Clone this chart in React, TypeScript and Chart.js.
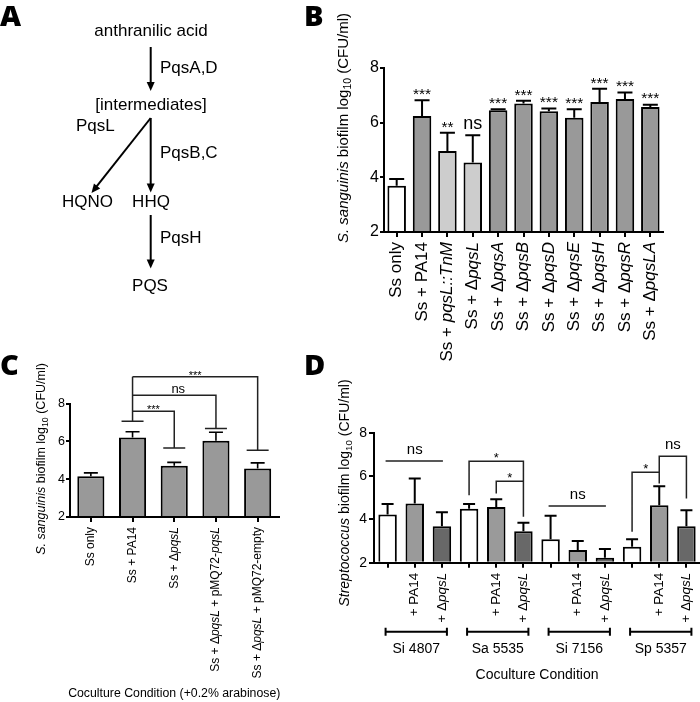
import React, { useEffect, useRef } from 'react';
import { Chart, registerables } from 'chart.js';
Chart.register(...registerables);

const FONT = '"Liberation Sans", Arial, Helvetica, sans-serif';

// ---------- Panel B ----------
const bCategories = ['Ss only', 'Ss + PA14', 'Ss + {pqsL::TnM}', 'Ss + Δ{pqsL}', 'Ss + Δ{pqsA}', 'Ss + Δ{pqsB}', 'Ss + Δ{pqsD}', 'Ss + Δ{pqsE}', 'Ss + Δ{pqsH}', 'Ss + Δ{pqsR}', 'Ss + Δ{pqsLA}'];
const bMeans = [3.69, 6.24, 4.96, 4.54, 6.45, 6.70, 6.42, 6.18, 6.76, 6.87, 6.57];
const bErrors = [0.25, 0.58, 0.67, 1.0, 0.04, 0.10, 0.10, 0.31, 0.48, 0.23, 0.09];
const bSignificance = ['', '***', '**', 'ns', '***', '***', '***', '***', '***', '***', '***'];

// ---------- Panel C ----------
const cCategories = ['Ss only', 'Ss + PA14', 'Ss + Δ{pqsL}', 'Ss + Δ{pqsL} + pMQ72-{pqsL}', 'Ss + Δ{pqsL} + pMQ72-empty'];
const cMeans = [4.15, 6.2, 4.71, 6.03, 4.56];
const cErrors = [0.18, 0.31, 0.18, 0.45, 0.30];
const cReference = 1;
const cReferenceStart = 7.06;
const cComparisons = [
  { to: 2, top: 7.59, end: 5.65, label: '***' },
  { to: 3, top: 8.44, end: 6.68, label: 'ns' },
  { to: 4, top: 9.41, end: 5.53, label: '***' },
];

// ---------- Panel D ----------
const dCategories = ['', '+ PA14', '+ Δ{pqsL}', '', '+ PA14', '+ Δ{pqsL}', '', '+ PA14', '+ Δ{pqsL}', '', '+ PA14', '+ Δ{pqsL}'];
const dGroups = ['Si 4807', 'Sa 5535', 'Si 7156', 'Sp 5357'];
const dMeans = [4.23, 4.74, 3.69, 4.49, 4.58, 3.46, 3.08, 2.59, 2.23, 2.74, 4.66, 3.69];
const dErrors = [0.48, 1.16, 0.64, 0.23, 0.35, 0.39, 1.09, 0.41, 0.40, 0.34, 0.88, 0.74];
const dComparisons = [
  { from: 0, to: 2, top: 6.71, label: 'ns', flat: true },
  { from: 3, to: 5, top: 6.69, left: 5.12, right: 4.12, label: '*' },
  { from: 4, to: 5, top: 5.77, left: 5.2, right: 5.77, label: '*' },
  { from: 6, to: 8, top: 4.62, label: 'ns', flat: true },
  { from: 9, to: 10, top: 6.19, left: 3.43, right: 5.66, label: '*' },
  { from: 10, to: 11, top: 6.92, left: 6.19, right: 4.97, label: 'ns' },
];

// ---------- styles ----------
const bFill = ['#ffffff', '#999999', '#cdcdcd', '#cdcdcd', '#999999', '#999999', '#999999', '#999999', '#999999', '#999999', '#999999'];
const cFill = '#999999';
const dFill = ['#ffffff', '#9a9a9a', '#686868'];

type Seg = { t: string; i?: boolean; sub?: boolean };

function parseRich(s: string): Seg[] {
  const out: Seg[] = [];
  const re = /\{([^}]*)\}/g;
  let last = 0;
  let m: RegExpExecArray | null;
  while ((m = re.exec(s))) {
    if (m.index > last) out.push({ t: s.slice(last, m.index) });
    out.push({ t: m[1], i: true });
    last = re.lastIndex;
  }
  if (last < s.length) out.push({ t: s.slice(last) });
  return out;
}

function fnt(size: number, italic?: boolean) {
  return `${italic ? 'italic ' : ''}${size}px ${FONT}`;
}

function drawRich(ctx: CanvasRenderingContext2D, segs: Seg[], x: number, y: number, size: number, rot: number, align: 'left' | 'center' | 'right') {
  ctx.save();
  ctx.translate(x, y);
  ctx.rotate(rot);
  let w = 0;
  for (const s of segs) {
    ctx.font = fnt(s.sub ? size * 0.7 : size, s.i);
    w += ctx.measureText(s.t).width;
  }
  let cx = align === 'left' ? 0 : align === 'center' ? -w / 2 : -w;
  ctx.textBaseline = 'middle';
  ctx.textAlign = 'left';
  ctx.fillStyle = '#000';
  for (const s of segs) {
    ctx.font = fnt(s.sub ? size * 0.7 : size, s.i);
    ctx.fillText(s.t, cx, s.sub ? size * 0.3 : 0);
    cx += ctx.measureText(s.t).width;
  }
  ctx.restore();
}

function drawSig(ctx: CanvasRenderingContext2D, text: string, x: number, yc: number, size: number) {
  if (!text) return;
  ctx.save();
  ctx.font = fnt(size);
  ctx.fillStyle = '#000';
  ctx.textAlign = 'center';
  ctx.textBaseline = 'alphabetic';
  const k = text.includes('*') ? 0.57 : 0.26;
  ctx.fillText(text, x, yc + k * size);
  ctx.restore();
}

function drawErrorBars(chart: any, means: number[], errs: number[], capW: number, lw: number) {
  const ctx = chart.ctx;
  const meta = chart.getDatasetMeta(0);
  const ys = chart.scales.y;
  ctx.save();
  ctx.strokeStyle = '#000';
  ctx.lineWidth = lw;
  means.forEach((m, i) => {
    const x = meta.data[i].x;
    const y0 = ys.getPixelForValue(m);
    const y1 = ys.getPixelForValue(m + errs[i]);
    ctx.beginPath();
    ctx.moveTo(x, y0);
    ctx.lineTo(x, y1);
    ctx.moveTo(x - capW / 2, y1);
    ctx.lineTo(x + capW / 2, y1);
    ctx.stroke();
  });
  ctx.restore();
}

function drawXLabels(chart: any, cats: string[], size: number) {
  const meta = chart.getDatasetMeta(0);
  const y = chart.chartArea.bottom + 10;
  cats.forEach((c, i) => {
    if (!c) return;
    drawRich(chart.ctx, parseRich(c), meta.data[i].x, y, size, -Math.PI / 2, 'right');
  });
}

const yTitleSanguinis: Seg[] = [{ t: 'S. sanguinis', i: true }, { t: ' biofilm log' }, { t: '10', sub: true }, { t: ' (CFU/ml)' }];
const yTitleStrep: Seg[] = [{ t: 'Streptococcus', i: true }, { t: ' biofilm log' }, { t: '10', sub: true }, { t: ' (CFU/ml)' }];

function axes(o: { yWidth: number; xHeight: number; tickSize: number; tickLen: number; tickPad: number; lw: number }) {
  return {
    x: {
      type: 'category',
      offset: true,
      afterFit: (s: any) => { s.height = o.xHeight; },
      ticks: { display: false },
      grid: { display: true, offset: false, drawOnChartArea: false, drawTicks: true, tickLength: 5, color: '#000', lineWidth: o.lw },
      border: { display: true, color: '#000', width: o.lw },
    },
    y: {
      type: 'linear',
      min: 2,
      max: 8,
      afterFit: (s: any) => { s.width = o.yWidth; },
      ticks: { stepSize: 2, color: '#000', font: { family: FONT, size: o.tickSize }, padding: o.tickPad },
      grid: { display: true, drawOnChartArea: false, drawTicks: true, tickLength: o.tickLen, color: '#000', lineWidth: o.lw },
      border: { display: true, color: '#000', width: o.lw },
    },
  };
}

function PanelB() {
  const ref = useRef<HTMLCanvasElement>(null);
  useEffect(() => {
    const chart = new Chart(ref.current as HTMLCanvasElement, {
      type: 'bar',
      data: {
        labels: bCategories,
        datasets: [{ data: bMeans, backgroundColor: bFill, borderColor: '#000', borderWidth: 2, base: 2, barPercentage: 0.73, categoryPercentage: 1 } as any],
      },
      options: {
        responsive: false,
        animation: false,
        devicePixelRatio: 1,
        layout: { padding: { left: 0, right: 37, top: 68, bottom: 0 } },
        plugins: { legend: { display: false }, tooltip: { enabled: false } },
        scales: axes({ yWidth: 84, xHeight: 140, tickSize: 16, tickLen: 4, tickPad: 1, lw: 2 }) as any,
      },
      plugins: [{
        id: 'bExtras',
        afterDraw(c: any) {
          const ctx = c.ctx;
          drawErrorBars(c, bMeans, bErrors, 15, 2);
          const meta = c.getDatasetMeta(0);
          bSignificance.forEach((s, i) => {
            const yt = c.scales.y.getPixelForValue(bMeans[i] + bErrors[i]);
            if (s === 'ns') drawSig(ctx, s, meta.data[i].x, yt - 11, 18);
            else drawSig(ctx, s, meta.data[i].x, yt - 10, 15.5);
          });
          drawXLabels(c, bCategories, 17);
          drawRich(ctx, yTitleSanguinis, 44, 128, 15, -Math.PI / 2, 'center');
        },
      }],
    });
    return () => chart.destroy();
  }, []);
  return <canvas ref={ref} width={400} height={372} style={{ position: 'absolute', left: 300, top: 0 }} />;
}

function PanelC() {
  const ref = useRef<HTMLCanvasElement>(null);
  useEffect(() => {
    const chart = new Chart(ref.current as HTMLCanvasElement, {
      type: 'bar',
      data: {
        labels: cCategories,
        datasets: [{ data: cMeans, backgroundColor: cFill, borderColor: '#000', borderWidth: 2, base: 2, barPercentage: 0.65, categoryPercentage: 1 } as any],
      },
      options: {
        responsive: false,
        animation: false,
        devicePixelRatio: 1,
        layout: { padding: { left: 0, right: 21.5, top: 43.5, bottom: 0 } },
        plugins: { legend: { display: false }, tooltip: { enabled: false } },
        scales: axes({ yWidth: 70, xHeight: 185, tickSize: 12.5, tickLen: 4, tickPad: 1, lw: 2 }) as any,
      },
      plugins: [{
        id: 'cExtras',
        afterDraw(c: any) {
          const ctx = c.ctx;
          drawErrorBars(c, cMeans, cErrors, 14, 1.6);
          const meta = c.getDatasetMeta(0);
          const ys = c.scales.y;
          const xr = meta.data[cReference].x;
          const cap = 22;
          ctx.save();
          ctx.strokeStyle = '#222';
          ctx.lineWidth = 1.5;
          const maxTop = Math.max(...cComparisons.map((k) => k.top));
          ctx.beginPath();
          ctx.moveTo(xr, ys.getPixelForValue(cReferenceStart));
          ctx.lineTo(xr, ys.getPixelForValue(maxTop));
          ctx.moveTo(xr - cap / 2, ys.getPixelForValue(cReferenceStart));
          ctx.lineTo(xr + cap / 2, ys.getPixelForValue(cReferenceStart));
          cComparisons.forEach((k) => {
            const xt = meta.data[k.to].x;
            const yt = ys.getPixelForValue(k.top);
            const ye = ys.getPixelForValue(k.end);
            ctx.moveTo(xr, yt);
            ctx.lineTo(xt, yt);
            ctx.lineTo(xt, ye);
            ctx.moveTo(xt - cap / 2, ye);
            ctx.lineTo(xt + cap / 2, ye);
          });
          ctx.stroke();
          ctx.restore();
          cComparisons.forEach((k) => {
            const xt = meta.data[k.to].x;
            const yt = ys.getPixelForValue(k.top);
            if (k.label === 'ns') drawSig(ctx, k.label, (xr + xt) / 2 + 4, yt - 6, 13);
            else drawSig(ctx, k.label, (xr + xt) / 2, yt - 4.5, 11);
          });
          drawXLabels(c, cCategories, 12);
          drawRich(ctx, yTitleSanguinis, 42, 99, 12.5, -Math.PI / 2, 'center');
          const ca = c.chartArea;
          drawRich(ctx, [{ t: 'Coculture Condition (+0.2% arabinose)' }], (ca.left + ca.right) / 2, 334, 12.3, 0, 'center');
        },
      }],
    });
    return () => chart.destroy();
  }, []);
  return <canvas ref={ref} width={300} height={342} style={{ position: 'absolute', left: 0, top: 360 }} />;
}

function PanelD() {
  const ref = useRef<HTMLCanvasElement>(null);
  useEffect(() => {
    const chart = new Chart(ref.current as HTMLCanvasElement, {
      type: 'bar',
      data: {
        labels: dCategories.map((c, i) => `${i}:${c}`),
        datasets: [{ data: dMeans, backgroundColor: dMeans.map((_, i) => dFill[i % 3]), borderColor: '#000', borderWidth: 2, base: 2, barPercentage: 0.68, categoryPercentage: 1 } as any],
      },
      options: {
        responsive: false,
        animation: false,
        devicePixelRatio: 1,
        layout: { padding: { left: 0, right: 0, top: 73, bottom: 0 } },
        plugins: { legend: { display: false }, tooltip: { enabled: false } },
        scales: axes({ yWidth: 74, xHeight: 139.3, tickSize: 14, tickLen: 5, tickPad: 2, lw: 2 }) as any,
      },
      plugins: [{
        id: 'dExtras',
        afterDraw(c: any) {
          const ctx = c.ctx;
          drawErrorBars(c, dMeans, dErrors, 12, 2);
          const meta = c.getDatasetMeta(0);
          const ys = c.scales.y;
          const X = (i: number) => meta.data[i].x;
          ctx.save();
          ctx.strokeStyle = '#222';
          ctx.lineWidth = 1.5;
          ctx.beginPath();
          dComparisons.forEach((k: any) => {
            const yt = ys.getPixelForValue(k.top);
            if (k.flat) {
              ctx.moveTo(X(k.from) - 2, yt);
              ctx.lineTo(X(k.to) + 1, yt);
            } else {
              ctx.moveTo(X(k.from), ys.getPixelForValue(k.left));
              ctx.lineTo(X(k.from), yt);
              ctx.lineTo(X(k.to), yt);
              ctx.lineTo(X(k.to), ys.getPixelForValue(k.right));
            }
          });
          ctx.stroke();
          ctx.restore();
          dComparisons.forEach((k: any) => {
            const yt = ys.getPixelForValue(k.top);
            const xm = (X(k.from) + X(k.to)) / 2;
            if (k.label === 'ns') drawSig(ctx, k.label, xm, yt - 11, 15);
            else drawSig(ctx, k.label, xm, yt - 7, 13);
          });
          drawXLabels(c, dCategories, 13.5);
          const ca = c.chartArea;
          ctx.save();
          ctx.strokeStyle = '#000';
          ctx.lineWidth = 2;
          dGroups.forEach((g, gi) => {
            const l = X(gi * 3) - 2;
            const r = X(gi * 3 + 2) + 5;
            const y = ca.bottom + 69;
            ctx.beginPath();
            ctx.moveTo(l, y);
            ctx.lineTo(r, y);
            ctx.moveTo(l, y - 4);
            ctx.lineTo(l, y + 4);
            ctx.moveTo(r, y - 4);
            ctx.lineTo(r, y + 4);
            ctx.stroke();
            drawRich(ctx, [{ t: g }], (l + r) / 2, ca.bottom + 86, 14, 0, 'center');
          });
          ctx.restore();
          drawRich(ctx, [{ t: 'Coculture Condition' }], (ca.left + ca.right) / 2, ca.bottom + 112, 14, 0, 'center');
          drawRich(ctx, yTitleStrep, 45, 133, 14, -Math.PI / 2, 'center');
        },
      }],
    });
    return () => chart.destroy();
  }, []);
  return <canvas ref={ref} width={400} height={342} style={{ position: 'absolute', left: 300, top: 360 }} />;
}

function Arrow({ x1, y1, x2, y2 }: { x1: number; y1: number; x2: number; y2: number }) {
  const dx = x2 - x1, dy = y2 - y1, L = Math.hypot(dx, dy);
  const ux = dx / L, uy = dy / L, px = -uy, py = ux;
  const hl = 9, hw = 4;
  const bx = x2 - ux * hl, by = y2 - uy * hl;
  return (
    <g>
      <line x1={x1} y1={y1} x2={bx + ux} y2={by + uy} stroke="#000" strokeWidth={2} />
      <polygon points={`${x2},${y2} ${bx + px * hw},${by + py * hw} ${bx - px * hw},${by - py * hw}`} fill="#000" />
    </g>
  );
}

function Overlay() {
  const t = { fontFamily: FONT, fontSize: 17, fill: '#000' } as const;
  const L = { fontFamily: '"Open Sans", "DejaVu Sans", sans-serif', fontSize: 29, fontWeight: 800, fill: '#000' } as const;
  return (
    <svg width={700} height={702} style={{ position: 'absolute', left: 0, top: 0, pointerEvents: 'none' }}>
      <text x={0} y={26} style={L}>A</text>
      <text x={304} y={26} style={L}>B</text>
      <text x={0} y={375} style={L}>C</text>
      <text x={304} y={375} style={L}>D</text>
      <text x={151} y={36} textAnchor="middle" style={t}>anthranilic acid</text>
      <Arrow x1={150.7} y1={47} x2={150.7} y2={91} />
      <text x={160} y={73} style={t}>PqsA,D</text>
      <text x={151} y={110} textAnchor="middle" style={t}>[intermediates]</text>
      <Arrow x1={150.7} y1={118} x2={91.5} y2={193} />
      <Arrow x1={150.7} y1={118} x2={150.7} y2={192.5} />
      <text x={76} y={131} style={t}>PqsL</text>
      <text x={160} y={158} style={t}>PqsB,C</text>
      <text x={87.5} y={207} textAnchor="middle" style={t}>HQNO</text>
      <text x={151} y={207} textAnchor="middle" style={t}>HHQ</text>
      <Arrow x1={150.7} y1={215} x2={150.7} y2={268.5} />
      <text x={160} y={242.5} style={t}>PqsH</text>
      <text x={150} y={290.5} textAnchor="middle" style={t}>PQS</text>
    </svg>
  );
}

export default function App() {
  return (
    <div style={{ position: 'absolute', left: 0, top: 0, width: 700, height: 702, background: '#fff', overflow: 'hidden' }}>
      <PanelB />
      <PanelC />
      <PanelD />
      <Overlay />
    </div>
  );
}
